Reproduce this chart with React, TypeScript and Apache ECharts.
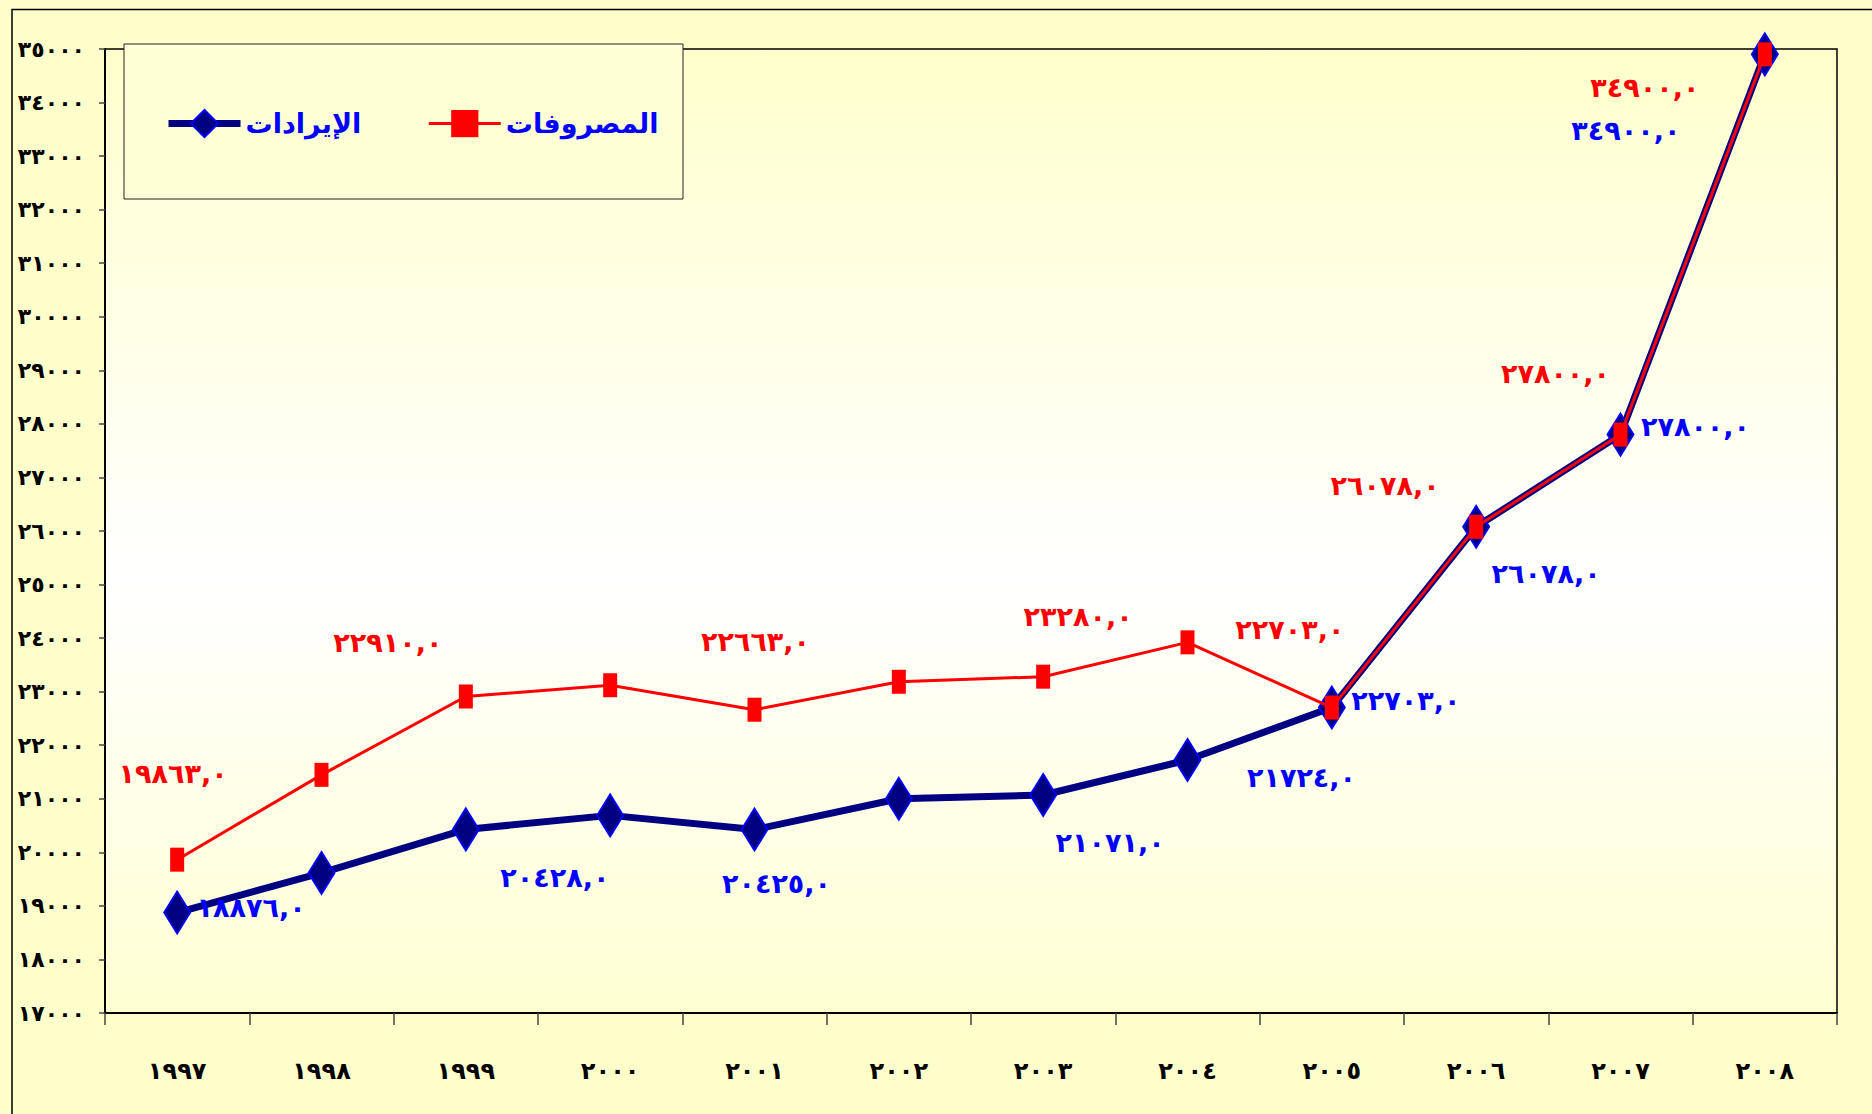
import React, { useEffect, useRef } from "react";
import * as echarts from "echarts";

const years = ["1997", "1998", "1999", "2000", "2001", "2002", "2003", "2004", "2005", "2006", "2007", "2008"];
const revenue = [18876, 19615, 20428, 20690, 20425, 21000, 21071, 21724, 22703, 26078, 27800, 34900];
const expenses = [19863, 21447, 22910, 23120, 22663, 23185, 23280, 23921, 22703, 26078, 27800, 34900];
const revenueName = "الإيرادات";
const expensesName = "المصروفات";
const yMin = 17000;
const yMax = 35000;
const yStep = 1000;

// label placement (styling only)
const expLabelOffsets: (number[] | null)[] = [[-4, -86], null, [-78, -54], null, [1, -68], null, [35, -60], null, [-42, -78], [-91, -41], [-65, -61], [-120, 33]];
const revLabelOffsets: (number[] | null)[] = [[74, -5], null, [89, 48], null, [22, 54], null, [67, 48], [114, 17], [74, -7], [70, 47], [75, -8], [-139, 76]];

const AR = "٠١٢٣٤٥٦٧٨٩";
const toAr = (s: string | number) => String(s).replace(/[0-9]/g, (d) => AR[+d]);
const FONT = "'DejaVu Sans', sans-serif";

function buildData(values: number[], offsets: (number[] | null)[], color: string) {
  return values.map((v, i) => {
    const off = offsets[i];
    return {
      value: v,
      label: off
        ? {
            show: true,
            position: "inside",
            offset: off,
            color,
            fontFamily: FONT,
            fontWeight: "bold",
            fontSize: 27,
            formatter: () => toAr(v) + ",٠",
          }
        : { show: false },
    };
  });
}

export default function App() {
  const ref = useRef<HTMLDivElement>(null);
  useEffect(() => {
    if (!ref.current) return;
    const chart = echarts.init(ref.current, undefined, { renderer: "svg" });
    chart.setOption({
      animation: false,
      backgroundColor: "#FFFFCC",
      graphic: [
        {
          type: "rect",
          shape: { x: 12, y: 9.5, width: 1900, height: 1200 },
          style: { fill: "none", stroke: "#000", lineWidth: 1.5 },
          z: 0,
        },
        {
          type: "rect",
          shape: { x: 124, y: 44, width: 559, height: 155 },
          style: { fill: "#FFFFD6", stroke: "#222", lineWidth: 1 },
          z: 3,
        },
      ],
      legend: {
        data: [
          {
            name: revenueName,
            itemStyle: { color: "#000080", borderColor: "#0000FF", borderWidth: 2 },
            lineStyle: { color: "#000080", width: 7 },
          },
          {
            name: expensesName,
            itemStyle: { color: "#FF0000", borderWidth: 0 },
            lineStyle: { color: "#FF0000", width: 3 },
          },
        ],
        left: 160,
        top: 104,
        itemWidth: 72,
        itemHeight: 34,
        itemGap: 66,
        textStyle: { color: "#0000FF", fontFamily: FONT, fontWeight: "bold", fontSize: 27 },
        z: 5,
      },
      grid: {
        left: 105,
        top: 49,
        right: 35,
        bottom: 101,
        show: true,
        borderColor: "#000",
        borderWidth: 1.5,
        backgroundColor: new echarts.graphic.LinearGradient(0, 0, 0, 1, [
          { offset: 0, color: "#FFFFCC" },
          { offset: 0.55, color: "#FFFFFF" },
          { offset: 1, color: "#FFFFD2" },
        ]),
      },
      xAxis: {
        type: "category",
        data: years,
        boundaryGap: true,
        axisLine: { lineStyle: { color: "#000", width: 2 } },
        axisTick: { show: true, length: 12, lineStyle: { color: "#444", width: 1.5 } },
        axisLabel: {
          formatter: (v: string) => toAr(v),
          color: "#000",
          fontFamily: FONT,
          fontWeight: "bold",
          fontSize: 24,
          margin: 46,
        },
        splitLine: { show: false },
      },
      yAxis: {
        type: "value",
        min: yMin,
        max: yMax,
        interval: yStep,
        axisLine: { show: true, lineStyle: { color: "#000", width: 2 } },
        axisTick: { show: true, length: 6, lineStyle: { color: "#444", width: 1.5 } },
        axisLabel: {
          formatter: (v: number) => toAr(v),
          color: "#000",
          fontFamily: FONT,
          fontWeight: "bold",
          fontSize: 22,
          margin: 20,
        },
        splitLine: { show: false },
      },
      series: [
        {
          name: revenueName,
          type: "line",
          data: buildData(revenue, revLabelOffsets, "#0000FF"),
          symbol: "diamond",
          symbolSize: [26, 42],
          lineStyle: { color: "#000080", width: 7 },
          itemStyle: { color: "#000080", borderColor: "#0000FF", borderWidth: 2 },
          z: 2,
        },
        {
          name: expensesName,
          type: "line",
          data: buildData(expenses, expLabelOffsets, "#FF0000"),
          symbol: "rect",
          symbolSize: [14, 24],
          lineStyle: { color: "#FF0000", width: 3 },
          itemStyle: { color: "#FF0000", borderWidth: 0 },
          z: 3,
        },
      ],
    });
    return () => chart.dispose();
  }, []);
  return <div ref={ref} style={{ position: "fixed", left: 0, top: 0, width: 1872, height: 1114 }} />;
}
